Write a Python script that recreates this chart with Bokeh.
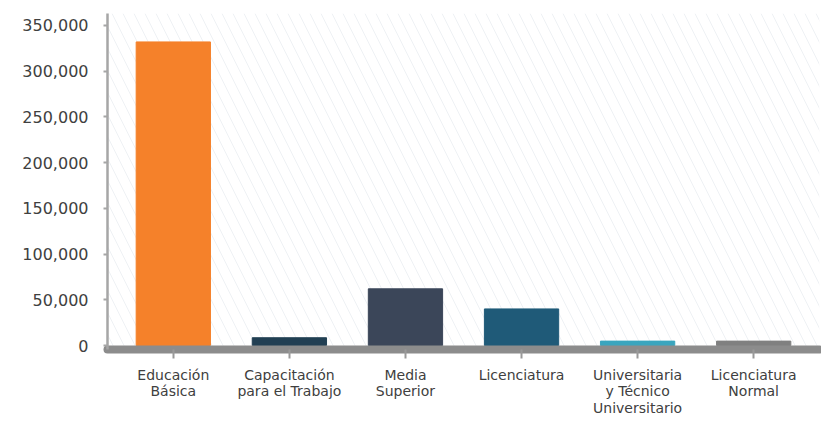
from bokeh.plotting import figure
from bokeh.models import Range1d, FixedTicker, NumeralTickFormatter, BoxAnnotation, ColumnDataSource
from bokeh.embed import file_html
from bokeh.resources import INLINE

categories = ["Educación\nBásica", "Capacitación\npara el Trabajo", "Media\nSuperior",
              "Licenciatura", "Universitaria\ny Técnico\nUniversitario", "Licenciatura\nNormal"]
values = [332000, 8500, 62000, 40000, 4800, 4800]
colors = ["#F5812A", "#213F53", "#3B4659", "#1F5A78", "#3AA5BE", "#808080"]
y_ticks = [0, 50000, 100000, 150000, 200000, 250000, 300000, 350000]

xs = list(range(len(categories)))
source = ColumnDataSource(dict(x=xs, top=values, color=colors))

p = figure(width=821, height=419, output_backend="svg", toolbar_location=None,
           x_range=Range1d(-0.567, len(categories) - 1 + 0.567),
           y_range=Range1d(-4361, 363084),
           min_border_left=107, min_border_right=2, min_border_top=13, min_border_bottom=69)

p.add_layout(BoxAnnotation(fill_alpha=0, line_alpha=0, hatch_pattern="\\",
                           hatch_color="#eef1f4", hatch_scale=22, hatch_weight=1,
                           level="underlay"))

p.vbar(x="x", top="top", bottom=0, width=0.64, color="color", source=source)

p.outline_line_color = None
p.xgrid.grid_line_color = None
p.ygrid.grid_line_color = None
p.background_fill_color = "white"
p.border_fill_color = "white"

# x axis
p.xaxis.ticker = FixedTicker(ticks=xs)
p.xaxis.major_label_overrides = {i: c for i, c in enumerate(categories)}
p.xaxis.axis_line_color = "#8c8c8c"
p.xaxis.axis_line_width = 8
p.xaxis.axis_line_cap = "round"
p.xaxis.major_tick_line_color = "#999999"
p.xaxis.major_tick_line_width = 2
p.xaxis.major_tick_out = 9
p.xaxis.major_tick_in = 0
p.xaxis.minor_tick_line_color = None
p.xaxis.major_label_standoff = 8
p.xaxis.major_label_text_font = "DejaVu Sans"
p.xaxis.major_label_text_font_size = "14px"
p.xaxis.major_label_text_color = "#404040"
p.xaxis.major_label_text_line_height = 1.05

# y axis
p.yaxis.ticker = FixedTicker(ticks=y_ticks)
p.yaxis.formatter = NumeralTickFormatter(format="0,0")
p.yaxis.axis_line_color = "#a6a6a6"
p.yaxis.axis_line_width = 2.5
p.yaxis.major_tick_line_color = "#a6a6a6"
p.yaxis.major_tick_line_width = 2
p.yaxis.major_tick_out = 4
p.yaxis.major_tick_in = 0
p.yaxis.minor_tick_line_color = None
p.yaxis.major_label_standoff = 15
p.yaxis.major_label_text_font = "DejaVu Sans"
p.yaxis.major_label_text_font_size = "16px"
p.yaxis.major_label_text_color = "#404040"

open("out.html", "w").write(file_html(p, INLINE))
